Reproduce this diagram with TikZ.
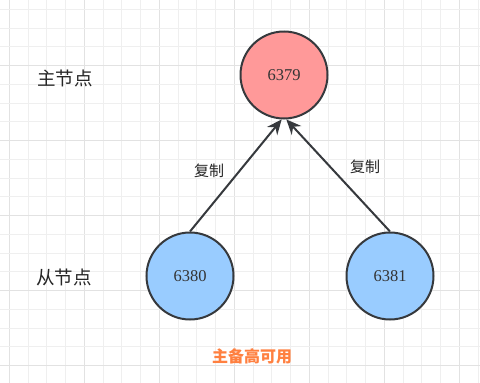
\documentclass[tikz,border=0pt]{standalone}
\usepackage{fontspec}
\setmainfont{Liberation Serif}
\newfontfamily\cjk{Noto Sans CJK SC}
\usetikzlibrary{arrows.meta}
\definecolor{gridminor}{HTML}{EFEFEF}
\definecolor{gridmajor}{HTML}{E2E2E2}
\definecolor{redfill}{HTML}{FF9999}
\definecolor{bluefill}{HTML}{99CCFF}
\definecolor{strokec}{HTML}{36393D}
\definecolor{orangetxt}{HTML}{FF8040}
\tikzset{
  nodecirc/.style={circle, draw=strokec, line width=2pt, minimum size=87pt, inner sep=0pt,
    font=\fontsize{16.5}{18}\selectfont, text=black!80},
  lbl/.style={font=\cjk\fontsize{18.5}{20}\selectfont, text=black!85},
  edgelbl/.style={font=\cjk\fontsize{15}{16}\selectfont, text=black!85},
  arr/.style={draw=strokec, line width=2pt, -{Stealth[length=15pt,width=13pt,inset=5pt]}},
}
\begin{document}
\begin{tikzpicture}[x=1pt,y=-1pt]
\useasboundingbox (0,0) rectangle (480,383);
\fill[white] (0,0) rectangle (480,383);
% grid
\foreach \k in {0,...,25}{
  \pgfmathsetmacro{\xx}{9.3+18.75*\k}
  \pgfmathtruncatemacro{\m}{mod(\k,4)}
  \ifnum\m=0 \draw[gridmajor,line width=1pt] (\xx,0) -- (\xx,383);
  \else \draw[gridminor,line width=1pt] (\xx,0) -- (\xx,383); \fi
}
\foreach \k in {0,...,19}{
  \pgfmathsetmacro{\yy}{9.3+18.75*\k}
  \pgfmathtruncatemacro{\m}{mod(\k+1,4)}
  \ifnum\m=0 \draw[gridmajor,line width=1pt] (0,\yy) -- (480,\yy);
  \else \draw[gridminor,line width=1pt] (0,\yy) -- (480,\yy); \fi
}
% nodes
\node[nodecirc, fill=redfill] (master) at (284,75) {6379};
\node[nodecirc, fill=bluefill] (slave1) at (190,276) {6380};
\node[nodecirc, fill=bluefill] (slave2) at (390,276) {6381};
\node[lbl] (lmaster) at (65,78) {主节点};
\node[lbl] (lslave) at (64,277) {从节点};
\node[font=\cjk\bfseries\fontsize{16}{18}\selectfont, text=orangetxt] (title) at (252,356) {主备高可用};
% arrows
\draw[arr] (slave1.north) -- (master.-93);
\draw[arr] (slave2.north) -- (master.-87);
\node[edgelbl] (c1) at (209,171) {复制};
\node[edgelbl] (c2) at (365,167) {复制};
\end{tikzpicture}
\end{document}
